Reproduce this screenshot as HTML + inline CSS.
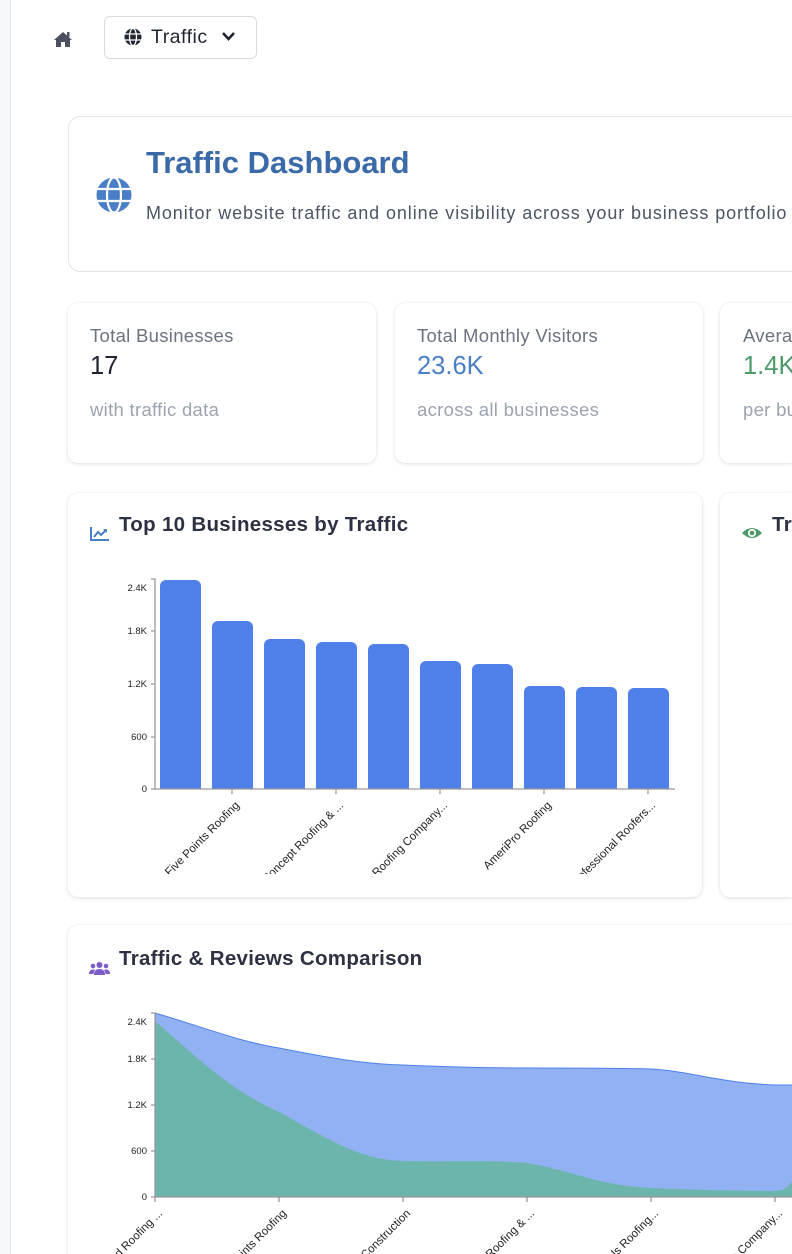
<!DOCTYPE html>
<html><head><meta charset="utf-8">
<style>
*{box-sizing:border-box;margin:0;padding:0}
html,body{width:792px;height:1254px;overflow:hidden}
body{background:#fff;font-family:"Liberation Sans",sans-serif;position:relative}
.side{position:absolute;left:0;top:0;width:11px;height:1254px;background:#f6f8fc;border-right:1px solid #e5e8ef}
.abs{position:absolute;white-space:nowrap}
.card{position:absolute;background:#fff;border-radius:10px;box-shadow:0 1px 4px rgba(0,0,0,0.12),0 0 1px rgba(0,0,0,0.08)}
.lbl{font-size:18.5px;color:#6b7280;letter-spacing:0.3px}
.val{font-size:25.5px;font-weight:normal}
.sub{font-size:18.5px;color:#9ca3af;letter-spacing:0.3px}
.ct{font-size:20.5px;font-weight:bold;color:#2d3142;letter-spacing:0.3px}
</style></head><body>
<div class="side"></div>
<svg class="abs" style="left:53px;top:30px" width="20" height="18" viewBox="0 0 20 18"><path d="M10 2 L1 10 L3 10 L3 17 L8 17 L8 12 L12 12 L12 17 L17 17 L17 10 L19 10 Z" fill="#4b5060"/><rect x="14" y="2" width="2.5" height="5" fill="#4b5060"/></svg>
<div class="abs" style="left:104px;top:16px;width:153px;height:43px;border:1px solid #d7dae0;border-radius:6px"></div>
<svg class="abs" style="left:124px;top:28px" width="18" height="18" viewBox="0 0 18 18"><circle cx="9" cy="9" r="8.5" fill="#1f2430"/><g stroke="#fff" stroke-width="1.3" fill="none"><ellipse cx="9" cy="9" rx="3.5" ry="8.5"/><line x1="0" y1="6" x2="18" y2="6"/><line x1="0" y1="12" x2="18" y2="12"/></g></svg>
<div class="abs" style="left:151px;top:26px;font-size:19.5px;color:#1f2430;letter-spacing:0.5px">Traffic</div>
<svg class="abs" style="left:221px;top:31px" width="15" height="11" viewBox="0 0 15 11"><path d="M2 2 L7.5 8 L13 2" stroke="#1f2430" stroke-width="2.6" fill="none"/></svg>

<div class="abs" style="left:68px;top:116px;width:724px;height:156px;border:1.5px solid #e2e4e8;border-right:none;border-radius:12px 0 0 12px"></div>
<svg class="abs" style="left:96px;top:177px" width="36" height="36" viewBox="0 0 36 36"><circle cx="18" cy="18" r="17.5" fill="#4a7fc8"/><g stroke="#fff" stroke-width="2.2" fill="none"><ellipse cx="18" cy="18" rx="7" ry="17.5"/><line x1="0" y1="12" x2="36" y2="12"/><line x1="0" y1="24" x2="36" y2="24"/></g></svg>
<div class="abs" style="left:146px;top:145px;font-size:31px;font-weight:bold;color:#3b6aa8">Traffic Dashboard</div>
<div class="abs" style="left:146px;top:203px;font-size:18px;color:#4b5563;letter-spacing:0.9px">Monitor website traffic and online visibility across your business portfolio</div>

<div class="card" style="left:68px;top:303px;width:308px;height:160px"></div>
<div class="card" style="left:395px;top:303px;width:308px;height:160px"></div>
<div class="card" style="left:720px;top:303px;width:72px;height:160px;border-radius:10px 0 0 10px"></div>
<div class="abs lbl" style="left:90px;top:325px">Total Businesses</div>
<div class="abs val" style="left:90px;top:352px;color:#1f2430">17</div>
<div class="abs sub" style="left:90px;top:399px">with traffic data</div>
<div class="abs lbl" style="left:417px;top:325px">Total Monthly Visitors</div>
<div class="abs val" style="left:417px;top:352px;color:#4a7fc8">23.6K</div>
<div class="abs sub" style="left:417px;top:399px">across all businesses</div>
<div style="position:absolute;left:720px;top:303px;width:72px;height:160px;overflow:hidden">
<div class="abs lbl" style="left:23px;top:22px">Average</div>
<div class="abs val" style="left:23px;top:49px;color:#4f9a6a">1.4K</div>
<div class="abs sub" style="left:23px;top:96px">per business</div>
</div>

<div class="card" style="left:68px;top:493px;width:634px;height:404px"></div>
<div class="card" style="left:720px;top:493px;width:72px;height:404px;border-radius:10px 0 0 10px"></div>
<svg class="abs" style="left:90px;top:526px" width="20" height="16" viewBox="0 0 20 16"><path d="M1 1 V14 H19" stroke="#4a7fc8" stroke-width="2" fill="none"/><path d="M4 11 L8 6 L11 9 L16 4" stroke="#4a7fc8" stroke-width="2" fill="none"/><path d="M13 3 H17 V7 Z" fill="#4a7fc8"/></svg>
<div class="abs ct" style="left:119px;top:513px">Top 10 Businesses by Traffic</div>
<svg class="abs" style="left:741px;top:526px" width="22" height="14" viewBox="0 0 22 14"><path d="M1 7 Q11 -3 21 7 Q11 17 1 7Z" fill="#4f9a6a"/><circle cx="11" cy="7" r="4" fill="#fff"/><circle cx="11" cy="7" r="2.3" fill="#4f9a6a"/></svg>
<div style="position:absolute;left:772px;top:513px;width:20px;height:30px;overflow:hidden"><div class="abs ct" style="left:0;top:0">Traffic</div></div>

<div class="card" style="left:68px;top:925px;width:724px;height:329px;border-radius:10px 0 0 0"></div>
<svg class="abs" style="left:0;top:0" width="792" height="1254" viewBox="0 0 792 1254" font-family="Liberation Sans, sans-serif">
<defs><clipPath id="c1"><rect x="68" y="560" width="634" height="314"/></clipPath><clipPath id="c2"><rect x="0" y="990" width="792" height="264"/></clipPath></defs>
<g fill="#4f80ea">
<path d="M160 789V586a6 6 0 0 1 6-6h29a6 6 0 0 1 6 6V789Z"/>
<path d="M212 789V627a6 6 0 0 1 6-6h29a6 6 0 0 1 6 6V789Z"/>
<path d="M264 789V645a6 6 0 0 1 6-6h29a6 6 0 0 1 6 6V789Z"/>
<path d="M316 789V648a6 6 0 0 1 6-6h29a6 6 0 0 1 6 6V789Z"/>
<path d="M368 789V650a6 6 0 0 1 6-6h29a6 6 0 0 1 6 6V789Z"/>
<path d="M420 789V667a6 6 0 0 1 6-6h29a6 6 0 0 1 6 6V789Z"/>
<path d="M472 789V670a6 6 0 0 1 6-6h29a6 6 0 0 1 6 6V789Z"/>
<path d="M524 789V692a6 6 0 0 1 6-6h29a6 6 0 0 1 6 6V789Z"/>
<path d="M576 789V693a6 6 0 0 1 6-6h29a6 6 0 0 1 6 6V789Z"/>
<path d="M628 789V694a6 6 0 0 1 6-6h29a6 6 0 0 1 6 6V789Z"/>
</g>
<g stroke="#999" stroke-width="1.3" fill="none">
<path d="M151 579H155V789H675"/>
<path d="M151 631H155M151 684H155M151 737H155M151 789H155"/>
<path d="M232 789v5M336 789v5M440 789v5M544 789v5M648 789v5"/>
</g>
<g font-size="9.5" fill="#222" text-anchor="end">
<text x="147" y="591">2.4K</text><text x="147" y="634">1.8K</text><text x="147" y="687">1.2K</text><text x="147" y="740">600</text><text x="147" y="792">0</text>
</g>
<g font-size="11.5" fill="#222" text-anchor="end" clip-path="url(#c1)">
<text transform="translate(240,806) rotate(-45)">Five Points Roofing</text>
<text transform="translate(344,806) rotate(-45)">Concept Roofing &amp; ...</text>
<text transform="translate(448,806) rotate(-45)">Roofing Company...</text>
<text transform="translate(552,806) rotate(-45)">AmeriPro Roofing</text>
<text transform="translate(656,806) rotate(-45)">Professional Roofers...</text>
</g>

<path d="M155 1013 C200 1026 240 1042 279 1048 C320 1056 360 1064 403 1065 C450 1067 490 1068 527 1068 C570 1068 610 1068 651 1069 C690 1071 720 1083 775 1085 L792 1085 L792 1197 L155 1197Z" fill="#92b1f2"/>
<path d="M155 1013 C200 1026 240 1042 279 1048 C320 1056 360 1064 403 1065 C450 1067 490 1068 527 1068 C570 1068 610 1068 651 1069 C690 1071 720 1083 775 1085 L792 1085" stroke="#4f80ea" stroke-width="1" fill="none"/>
<path d="M155 1021 C200 1060 230 1090 279 1112 C330 1140 360 1160 403 1161 C450 1162 500 1160 527 1163 C570 1170 600 1186 651 1188 C700 1190 740 1191 775 1191 C785 1191 788 1186 792 1182 L792 1197 L155 1197Z" fill="#6bb5ad"/>
<g stroke="#999" stroke-width="1.3" fill="none">
<path d="M151 1013H155V1197H792"/>
<path d="M151 1059H155M151 1105H155M151 1151H155M151 1197H155"/>
<path d="M155 1197v5M279 1197v5M403 1197v5M527 1197v5M651 1197v5M775 1197v5"/>
</g>
<g font-size="9.5" fill="#222" text-anchor="end">
<text x="147" y="1025">2.4K</text><text x="147" y="1062">1.8K</text><text x="147" y="1108">1.2K</text><text x="147" y="1154">600</text><text x="147" y="1200">0</text>
</g>
<g font-size="11.5" fill="#222" text-anchor="end" clip-path="url(#c2)">
<text transform="translate(163,1214) rotate(-45)">Elevated Roofing ...</text>
<text transform="translate(287,1214) rotate(-45)">Five Points Roofing</text>
<text transform="translate(411,1214) rotate(-45)">Bison Construction</text>
<text transform="translate(535,1214) rotate(-45)">Concept Roofing &amp; ...</text>
<text transform="translate(659,1214) rotate(-45)">Professionals Roofing...</text>
<text transform="translate(783,1214) rotate(-45)">Roofing Company...</text>
</g>
</svg>

<svg class="abs" style="left:89px;top:961px" width="21" height="14" viewBox="0 0 21 14"><g fill="#7b5cc9"><circle cx="10.5" cy="4" r="3"/><circle cx="4" cy="5" r="2.3"/><circle cx="17" cy="5" r="2.3"/><path d="M5 14 Q5 8 10.5 8 Q16 8 16 14Z"/><path d="M0 13 Q0 8.5 4 8.5 Q5.5 8.5 6 9 Q4.5 11 4.5 13Z"/><path d="M21 13 Q21 8.5 17 8.5 Q15.5 8.5 15 9 Q16.5 11 16.5 13Z"/></g></svg>
<div class="abs ct" style="left:119px;top:947px">Traffic &amp; Reviews Comparison</div>
</body></html>
